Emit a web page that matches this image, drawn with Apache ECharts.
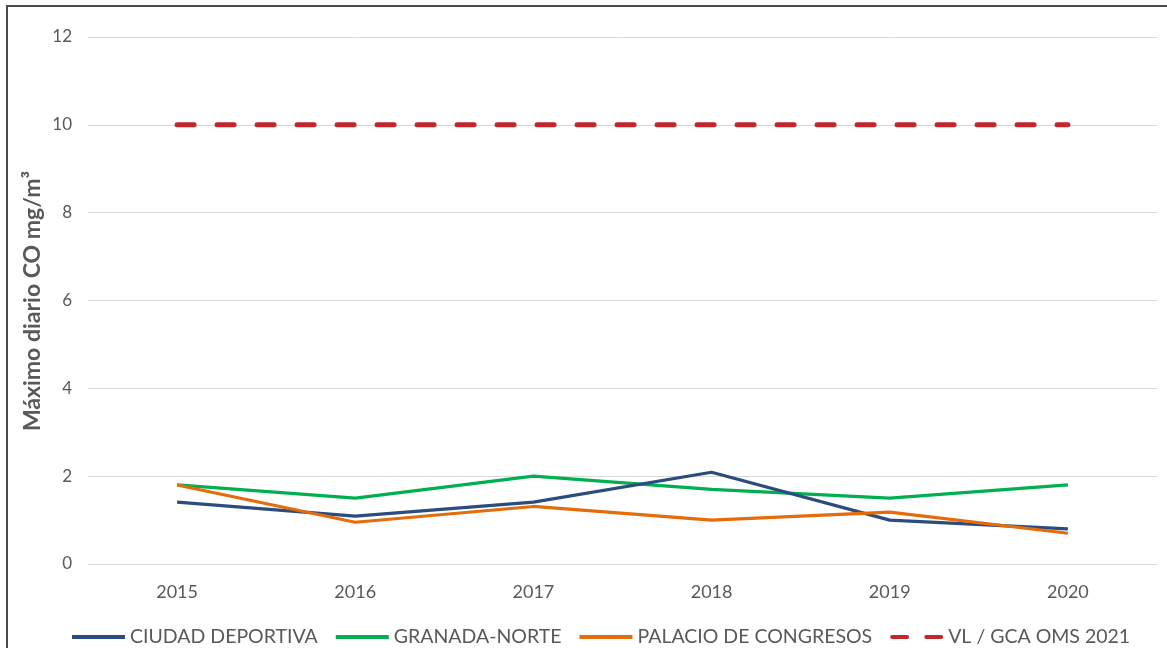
<!DOCTYPE html>
<html>
<head>
<meta charset="utf-8">
<script src="https://cdn.jsdelivr.net/npm/echarts@6/dist/echarts.min.js"></script>
<style>html,body{margin:0;padding:0;background:#fff;}#c{width:1167px;height:648px;}</style>
</head>
<body>
<div id="c"></div>
<script>
const years = ['2015','2016','2017','2018','2019','2020'];
const ciudadDeportiva = [1.41, 1.09, 1.41, 2.09, 1.0, 0.8];
const granadaNorte = [1.8, 1.5, 2.0, 1.7, 1.5, 1.8];
const palacioCongresos = [1.8, 0.95, 1.31, 1.0, 1.18, 0.7];
const vlGcaOms = [10, 10, 10, 10, 10, 10];
const yTicks = { min: 0, max: 12, interval: 2 };

const font = 'Lato, "Open Sans", sans-serif';
const C_BLUE = '#2B4C7E', C_GREEN = '#00B050', C_ORANGE = '#E46C0A', C_RED = '#C0262C';
const chart = echarts.init(document.getElementById('c'), null, { renderer: 'canvas' });
chart.setOption({
  animation: false,
  backgroundColor: '#fff',
  graphic: [
    { type: 'rect', shape: { x: 7, y: 6, width: 1200, height: 700 }, style: { fill: 'none', stroke: '#4a4a4a', lineWidth: 2 }, silent: true },
    { type: 'text', x: 33, y: 301, rotation: Math.PI / 2,
      style: { text: 'Máximo diario CO mg/m³', font: 'bold 23px ' + font, fill: '#595959', align: 'center', verticalAlign: 'middle' } }
  ],
  grid: { left: 88, right: 10, top: 37, bottom: 84 },
  legend: {
    top: 622, left: 67,
    itemWidth: 53, itemHeight: 4, itemGap: 18,
    textStyle: { fontFamily: font, fontSize: 19.5, color: '#595959' },
    data: [
      { name: 'CIUDAD DEPORTIVA', icon: 'rect', itemStyle: { color: C_BLUE } },
      { name: 'GRANADA-NORTE', icon: 'rect', itemStyle: { color: C_GREEN } },
      { name: 'PALACIO DE CONGRESOS', icon: 'rect', itemStyle: { color: C_ORANGE } },
      { name: 'VL / GCA OMS 2021', icon: 'path://M2,0h16a2,2 0 0 1 0,4h-16a2,2 0 0 1 0,-4z M38,0h16a2,2 0 0 1 0,4h-16a2,2 0 0 1 0,-4z', itemStyle: { color: C_RED } }
    ]
  },
  xAxis: {
    type: 'category', data: years, boundaryGap: true,
    axisLine: { show: true, lineStyle: { color: '#D9D9D9', width: 1 } },
    axisTick: { show: false },
    axisLabel: { fontFamily: font, fontSize: 18, color: '#595959', margin: 19 }
  },
  yAxis: {
    type: 'value', min: yTicks.min, max: yTicks.max, interval: yTicks.interval,
    axisLine: { show: false }, axisTick: { show: false },
    axisLabel: { fontFamily: font, fontSize: 17, color: '#595959', margin: 16 },
    splitLine: { lineStyle: { color: '#D9D9D9', width: 1 } }
  },
  series: [
    { name: 'CIUDAD DEPORTIVA', type: 'line', data: ciudadDeportiva, symbol: 'none', z: 3,
      lineStyle: { color: C_BLUE, width: 3.2 }, itemStyle: { color: C_BLUE } },
    { name: 'GRANADA-NORTE', type: 'line', data: granadaNorte, symbol: 'none', z: 2,
      lineStyle: { color: C_GREEN, width: 3.2 }, itemStyle: { color: C_GREEN } },
    { name: 'PALACIO DE CONGRESOS', type: 'line', data: palacioCongresos, symbol: 'none', z: 4,
      lineStyle: { color: C_ORANGE, width: 3.2 }, itemStyle: { color: C_ORANGE } },
    { name: 'VL / GCA OMS 2021', type: 'line', data: vlGcaOms, symbol: 'none', z: 5,
      lineStyle: { color: C_RED, width: 5, type: [17, 23], cap: 'round' }, itemStyle: { color: C_RED } }
  ]
});
</script>
</body>
</html>
